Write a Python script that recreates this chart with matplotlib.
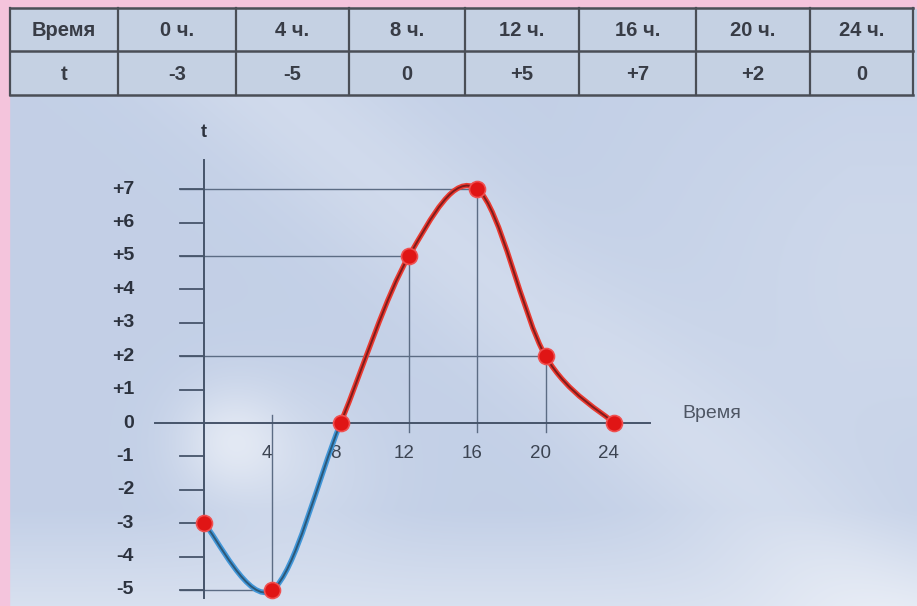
import numpy as np
import matplotlib
matplotlib.use("Agg")
import matplotlib.pyplot as plt
from matplotlib.path import Path
from matplotlib.patches import PathPatch, Rectangle

# ---------------- data ----------------
hours = [0, 4, 8, 12, 16, 20, 24]
temps = [-3, -5, 0, 5, 7, 2, 0]
y_ticks = [7, 6, 5, 4, 3, 2, 1, 0, -1, -2, -3, -4, -5]
x_tick_labels = [4, 8, 12, 16, 20, 24]
guide_points = [(4, -5), (12, 5), (16, 7), (20, 2)]
header_title = "Время"
row_title = "t"
x_label = "Время"
y_label = "t"


def fmt_signed(v):
    return f"+{v}" if v > 0 else f"{v}"


W, H = 917, 606
fig = plt.figure(figsize=(W / 100, H / 100), dpi=100)

# ---------------- background (pixel coordinates) ----------------
ax_bg = fig.add_axes([0, 0, 1, 1])
ax_bg.set_xlim(0, W)
ax_bg.set_ylim(H, 0)
ax_bg.axis("off")

yy, xx = np.mgrid[0:H, 0:W].astype(float)
base = np.array([0.765, 0.815, 0.905])
white = np.array([0.95, 0.96, 0.98])
# diagonal light streak
p0 = np.array([260.0, 80.0]); p1 = np.array([780.0, 520.0])
d = p1 - p0; d /= np.hypot(*d)
nrm = np.array([-d[1], d[0]])
dist = (xx - p0[0]) * nrm[0] + (yy - p0[1]) * nrm[1]
w = 0.28 * np.exp(-dist ** 2 / (2 * 55 ** 2))
# right side lighter
w += 0.22 * np.clip((xx - 550) / 300, 0, 1) * np.exp(-((yy - 280) / 220) ** 2)
# cloud blob
w += 0.55 * np.exp(-((xx - 230) ** 2 + (yy - 440) ** 2) / (2 * 38 ** 2))
w += 0.25 * np.exp(-((xx - 300) ** 2 + (yy - 470) ** 2) / (2 * 60 ** 2))
# bottom lighter
w += 0.45 * np.clip((yy - 510) / 96, 0, 1)
w = np.clip(w, 0, 0.85)[..., None]
img = base * (1 - w) + white * w
ax_bg.imshow(img, extent=(0, W, H, 0), aspect="auto", zorder=0)

# pink frame
pink = "#f4c4dc"
ax_bg.add_patch(Rectangle((0, 0), W, 8, color=pink, zorder=1))
ax_bg.add_patch(Rectangle((0, 0), 9, H, color=pink, zorder=1))

# ---------------- table ----------------
col_edges = [10, 118, 236, 349, 465, 579, 696, 810, 913]
row_edges = [8, 51, 95]
ax_bg.add_patch(Rectangle((col_edges[0], row_edges[0]), col_edges[-1] - col_edges[0],
                          row_edges[-1] - row_edges[0], color="#c5d1e3", zorder=2))
line_c = "#4a4e56"
for xe in col_edges:
    ax_bg.plot([xe, xe], [row_edges[0], row_edges[-1]], color=line_c, lw=1.6, zorder=3)
for ye in row_edges:
    ax_bg.plot([col_edges[0], col_edges[-1]], [ye, ye], color=line_c, lw=1.8, zorder=3)

row1 = [header_title] + [f"{h} ч." for h in hours]
row2 = [row_title] + [fmt_signed(t) for t in temps]
for i in range(len(row1)):
    cx = (col_edges[i] + col_edges[i + 1]) / 2
    ax_bg.text(cx, (row_edges[0] + row_edges[1]) / 2 + 1, row1[i], ha="center", va="center",
               fontsize=14.5, fontweight="bold", color="#383c46", family="Liberation Sans", zorder=4)
    ax_bg.text(cx, (row_edges[1] + row_edges[2]) / 2 + 1, row2[i], ha="center", va="center",
               fontsize=14.5, fontweight="bold", color="#383c46", family="Liberation Sans", zorder=4)

# ---------------- chart axes ----------------
x0_px, sx = 204.0, 17.08     # pixel of x=0, pixels per hour
y0_px, sy = 423.0, 33.4      # pixel of t=0, pixels per degree
ax = fig.add_axes([0, 0, 1, 1])
ax.patch.set_alpha(0)
ax.set_xlim(-x0_px / sx, (W - x0_px) / sx)
ax.set_ylim((y0_px - H) / sy, y0_px / sy)
ax.axis("off")

def px_x(p):
    return (p - x0_px) / sx

def px_y(p):
    return (y0_px - p) / sy

axis_c = "#46546a"
guide_c = "#5c6c84"
# axes lines
ax.plot([0, 0], [px_y(598), px_y(160)], color=axis_c, lw=1.4, zorder=3)
ax.plot([px_x(155), px_x(650)], [0, 0], color=axis_c, lw=1.4, zorder=3)

# y ticks + labels
tick_left = px_x(180)
for v in y_ticks:
    if v != 0:
        ax.plot([tick_left, 0], [v, v], color=axis_c, lw=1.3, zorder=3)
    ax.text(px_x(134), v, fmt_signed(v), ha="right", va="center", fontsize=14,
            fontweight="bold", color="#2c323e", family="Liberation Sans", zorder=4)

# guide lines
for gx, gy in guide_points:
    ax.plot([tick_left, gx], [gy, gy], color=guide_c, lw=1.0, zorder=2)
    top = gy if gy > 0 else px_y(415)
    bot = px_y(432) if gy > 0 else gy
    ax.plot([gx, gx], [bot, top], color=guide_c, lw=1.0, zorder=2)

# x tick labels
for v in x_tick_labels:
    ax.text(v - 0.3, px_y(453), str(v), ha="center", va="center", fontsize=13.5,
            color="#3c4452", family="Liberation Sans", zorder=4)

ax.text(px_x(682), px_y(414), x_label, ha="left", va="center", fontsize=14,
        color="#4e5664", family="Liberation Sans", zorder=4)
ax.text(0, px_y(133), y_label, ha="center", va="center", fontsize=13,
        fontweight="bold", color="#2c323e", family="Liberation Sans", zorder=4)

# smooth curve (Catmull-Rom -> cubic Bezier)
pts = np.array(list(zip(hours, temps)), dtype=float)
ext = np.vstack([pts[0], pts, pts[-1]])

def segment_path(i0, i1):
    verts = [tuple(pts[i0])]
    codes = [Path.MOVETO]
    for i in range(i0, i1):
        pm, pa, pb, pp = ext[i], ext[i + 1], ext[i + 2], ext[i + 3]
        c1 = pa + (pb - pm) / 6
        c2 = pb - (pp - pa) / 6
        verts += [tuple(c1), tuple(c2), tuple(pb)]
        codes += [Path.CURVE4] * 3
    return Path(verts, codes)

blue_path = segment_path(0, 2)
red_path = segment_path(2, len(pts) - 1)
for path, outer, inner in [(blue_path, "#4196d8", "#2c5878"), (red_path, "#ea3a30", "#7e1c1c")]:
    ax.add_patch(PathPatch(path, facecolor="none", edgecolor=outer, lw=3.8, zorder=5,
                           capstyle="round"))
    ax.add_patch(PathPatch(path, facecolor="none", edgecolor=inner, lw=1.4, zorder=6,
                           capstyle="round"))

ax.plot(hours, temps, "o", color="#e01515", markersize=11.5, mec="#f05050", mew=1.2, zorder=7)

fig.savefig("out.png", dpi=100)
